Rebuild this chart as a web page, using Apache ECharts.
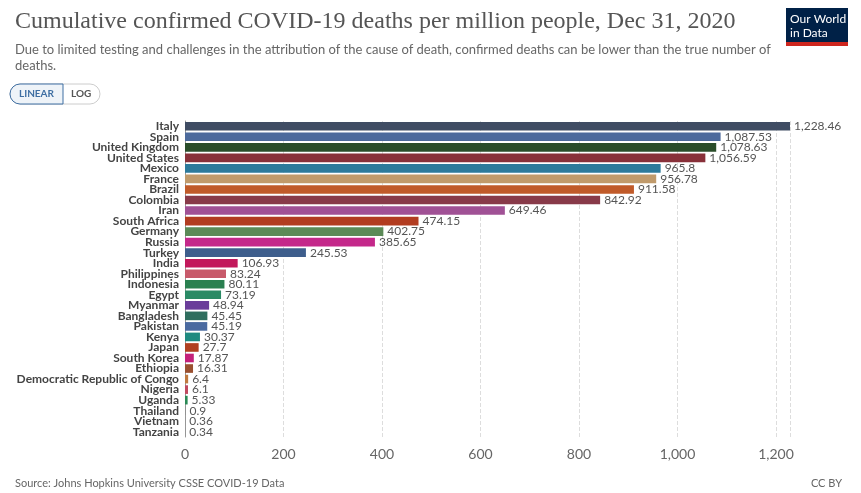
<!DOCTYPE html>
<html lang="en">
<head>
    <meta charset="UTF-8">
    <title>COVID-19 deaths per million</title>
    <script src="https://cdn.jsdelivr.net/npm/echarts@6/dist/echarts.min.js"></script>
    <style>
        body{margin:0;font-family:Lato,sans-serif;background:#fff}
        #echart{width:861px;height:493px}
    </style>
</head>
<body>
<div id="echart"></div>
</body>
<script>
    myChart = echarts.init(document.getElementById('echart'))

    var data = [
        ['Italy', 1228.46, '#3f4c63'],
        ['Spain', 1087.53, '#4c6a9c'],
        ['United Kingdom', 1078.63, '#2a4d2a'],
        ['United States', 1056.59, '#883039'],
        ['Mexico', 965.8, '#2d7a9b'],
        ['France', 956.78, '#c09a6b'],
        ['Brazil', 911.58, '#c05a29'],
        ['Colombia', 842.92, '#883a49'],
        ['Iran', 649.46, '#a05195'],
        ['South Africa', 474.15, '#b23c20'],
        ['Germany', 402.75, '#5b8a57'],
        ['Russia', 385.65, '#c4288a'],
        ['Turkey', 245.53, '#3e5e8c'],
        ['India', 106.93, '#c2185b'],
        ['Philippines', 83.24, '#c85a6b'],
        ['Indonesia', 80.11, '#2a8050'],
        ['Egypt', 73.19, '#2a8a65'],
        ['Myanmar', 48.94, '#6a3d9a'],
        ['Bangladesh', 45.45, '#2f6e5e'],
        ['Pakistan', 45.19, '#4a6aa0'],
        ['Kenya', 30.37, '#1f8a80'],
        ['Japan', 27.7, '#b04020'],
        ['South Korea', 17.87, '#c4207a'],
        ['Ethiopia', 16.31, '#9a5030'],
        ['Democratic Republic of Congo', 6.4, '#c07a40'],
        ['Nigeria', 6.1, '#c04a60'],
        ['Uganda', 5.33, '#2a8a55'],
        ['Thailand', 0.9, '#888'],
        ['Vietnam', 0.36, '#888'],
        ['Tanzania', 0.34, '#888']
    ]

    myChart.setOption({
        animation: false,
        textStyle: {fontFamily: 'Lato'},
        title: [{
            text: 'Cumulative confirmed COVID-19 deaths per million people, Dec 31, 2020',
            left: 10, top: 5,
            textStyle: {fontFamily: 'Liberation Serif', fontSize: 24, fontWeight: 'normal', color: '#555'}
        }, {
            text: 'Due to limited testing and challenges in the attribution of the cause of death, confirmed deaths can be lower than the true number of\ndeaths.',
            left: 10, top: 37,
            textStyle: {fontSize: 13, fontWeight: 'normal', color: '#666', lineHeight: 16}
        }, {
            text: 'Source: Johns Hopkins University CSSE COVID-19 Data',
            left: 10, top: 473,
            textStyle: {fontSize: 11, fontWeight: 'normal', color: '#666'}
        }, {
            text: 'CC BY',
            right: 14, top: 473,
            textStyle: {fontSize: 11, fontWeight: 'normal', color: '#666'}
        }],
        graphic: [
            {type: 'rect', shape: {x: 786, y: 8, width: 62, height: 38}, style: {fill: '#002147'}},
            {type: 'rect', shape: {x: 786, y: 42, width: 62, height: 4}, style: {fill: '#ce261e'}},
            {type: 'text', left: 790, top: 12, style: {text: 'Our World\nin Data', fill: '#fff', font: '12px Lato', lineHeight: 14}},
            {type: 'rect', shape: {x: 10, y: 84, width: 90, height: 20, r: 10}, style: {fill: '#fff', stroke: '#ccc'}},
            {type: 'rect', shape: {x: 10, y: 84, width: 53, height: 20, r: [10, 0, 0, 10]}, style: {fill: '#eef3f8', stroke: '#3f6fa3'}},
            {type: 'text', left: 19, top: 89, style: {text: 'LINEAR', fill: '#3f6fa3', font: 'bold 10px Lato'}},
            {type: 'text', left: 71, top: 89, style: {text: 'LOG', fill: '#555', font: 'bold 10px Lato'}}
        ],
        grid: {left: 185, right: 71, top: 121, bottom: 56},
        xAxis: {
            type: 'value',
            min: 0,
            max: 1228.46,
            interval: 200,
            axisLine: {show: false},
            axisTick: {show: false},
            splitLine: {lineStyle: {type: 'dashed', color: '#ddd'}},
            axisLabel: {
                fontSize: 14, color: '#666', margin: 10,
                formatter: function (v) { return v > 1200 ? '' : echarts.format.addCommas(v) }
            }
        },
        yAxis: {
            type: 'category',
            inverse: true,
            data: data.map(function (d) { return d[0] }),
            axisLine: {lineStyle: {color: '#999'}},
            axisTick: {show: false},
            axisLabel: {fontSize: 12, fontWeight: 'bold', color: '#444', margin: 6, interval: 0}
        },
        series: [{
            type: 'bar',
            barCategoryGap: '18%',
            data: data.map(function (d) { return {value: d[1], itemStyle: {color: d[2]}} }),
            label: {
                show: true, position: 'right', distance: 4,
                fontSize: 12, color: '#555',
                formatter: function (p) { return echarts.format.addCommas(p.value) }
            }
        }]
    });
</script>
</html>
